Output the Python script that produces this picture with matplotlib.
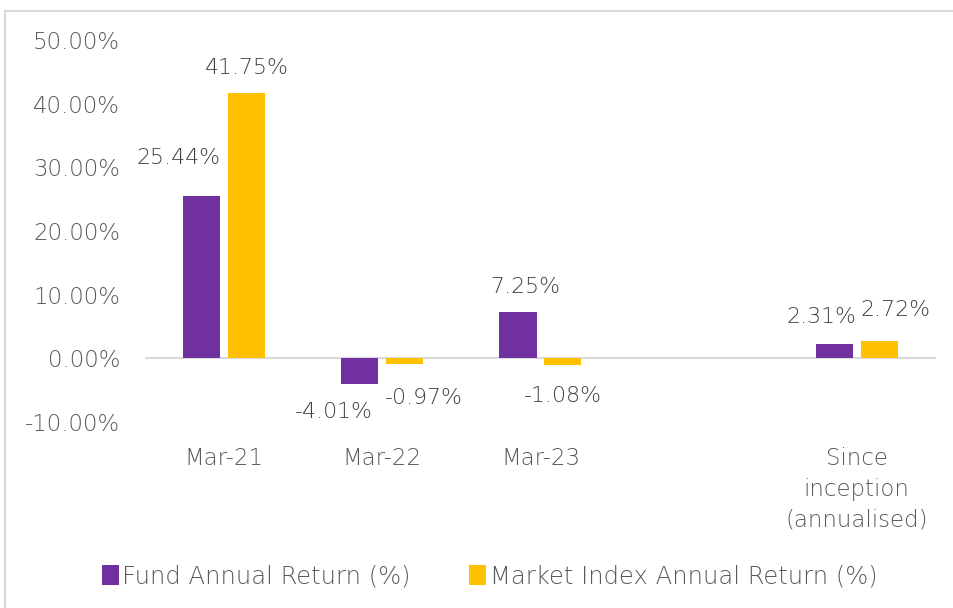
import numpy as np
import matplotlib
matplotlib.use('Agg')
import matplotlib.pyplot as plt
from matplotlib.lines import Line2D

# Chart data
categories = ['Mar-21', 'Mar-22', 'Mar-23', '', 'Since\ninception\n(annualised)']
fund_return = [25.44, -4.01, 7.25, np.nan, 2.31]
index_return = [41.75, -0.97, -1.08, np.nan, 2.72]
series_names = ['Fund Annual Return (%)', 'Market Index Annual Return (%)']
y_ticks = [-10, 0, 10, 20, 30, 40, 50]

# label offsets in points (dx, dy) relative to bar end
fund_offsets = [(-17, 28), (-19, -20), (5, 18), (0, 0), (-9, 19)]
index_offsets = [(0, 18), (14, -24), (0, -22), (0, 0), (12, 22)]

purple = '#7030A0'
gold = '#FFC000'
text_grey = '#595959'
label_grey = '#404040'

plt.rcParams['font.family'] = ['DejaVu Sans']
plt.rcParams['font.weight'] = 'light'

fig = plt.figure(figsize=(9.54, 6.08), dpi=100)
ax = fig.add_axes([0.152, 0.306, 0.829, 0.628])

x = np.arange(len(categories))
w = 0.235
shift = 0.142
b1 = ax.bar(x - shift, fund_return, w, color=purple, label=series_names[0])
b2 = ax.bar(x + shift, index_return, w, color=gold, label=series_names[1])

fs = 16.5
for bars, vals, offs in [(b1, fund_return, fund_offsets), (b2, index_return, index_offsets)]:
    for rect, v, (dx, dy) in zip(bars, vals, offs):
        if np.isnan(v):
            continue
        ax.annotate(f'{v:.2f}%', xy=(rect.get_x() + rect.get_width() / 2, v),
                    xytext=(dx, dy), textcoords='offset points',
                    ha='center', va='center', fontsize=15.8, color=label_grey)

ax.set_xlim(-0.5, len(categories) - 0.5)
ax.set_ylim(-10, 50)
ax.set_yticks(y_ticks)
ax.set_yticklabels([f'{t:.2f}%' for t in y_ticks])
ax.set_xticks(x)
ax.set_xticklabels(categories, linespacing=1.42)
ax.tick_params(axis='y', length=0, pad=18, labelsize=fs, labelcolor=text_grey)
ax.tick_params(axis='x', length=0, pad=18, labelsize=fs, labelcolor=text_grey)
ax.axhline(0, color='#d9d9d9', lw=1.5, zorder=0)
for s in ax.spines.values():
    s.set_visible(False)

leg = fig.legend(loc='center', bbox_to_anchor=(0.513, 0.052), ncol=2, frameon=False,
                 fontsize=17.5, handlelength=0.7, handleheight=0.85, handletextpad=0.15,
                 columnspacing=2.4)
for t in leg.get_texts():
    t.set_color(text_grey)

# outer chart frame (top and left edges visible)
fig.add_artist(Line2D([0.005, 1.0], [0.982, 0.982], color='#d9d9d9', lw=1.5))
fig.add_artist(Line2D([0.005, 0.005], [0.0, 0.982], color='#d9d9d9', lw=1.5))

fig.savefig('out.png', dpi=100)
